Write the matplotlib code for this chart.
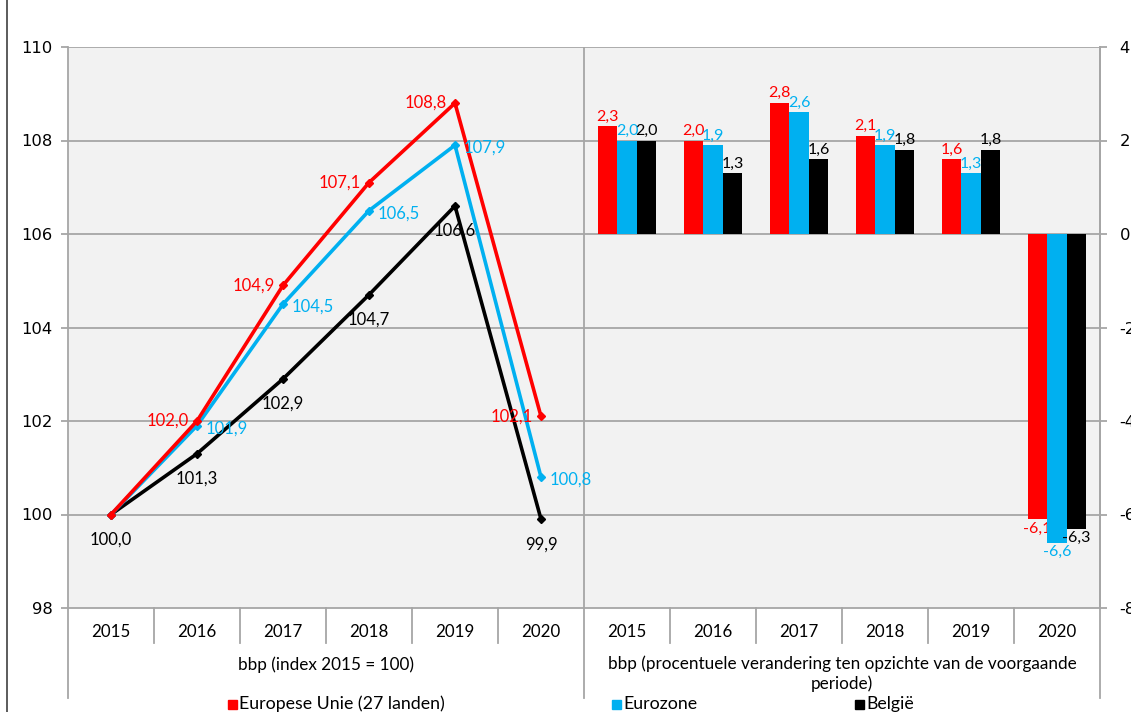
import numpy as np
import matplotlib
matplotlib.use('Agg')
import matplotlib.pyplot as plt
from matplotlib.patches import Rectangle
from matplotlib.lines import Line2D

years = ['2015', '2016', '2017', '2018', '2019', '2020']

# bbp index (2015 = 100)
eu_index = [100.0, 102.0, 104.9, 107.1, 108.8, 102.1]
ez_index = [100.0, 101.9, 104.5, 106.5, 107.9, 100.8]
be_index = [100.0, 101.3, 102.9, 104.7, 106.6, 99.9]

# bbp procentuele verandering
eu_growth = [2.3, 2.0, 2.8, 2.1, 1.6, -6.1]
ez_growth = [2.0, 1.9, 2.6, 1.9, 1.3, -6.6]
be_growth = [2.0, 1.3, 1.6, 1.8, 1.8, -6.3]

series_names = ['Europese Unie (27 landen)', 'Eurozone', 'België']
group_titles = ['bbp (index 2015 = 100)',
                'bbp (procentuele verandering ten opzichte van de voorgaande\nperiode)']

RED = '#FF0000'
BLUE = '#00B0F0'
BLACK = '#000000'
GRID = '#A6A6A6'
FONT = 'Lato'

W, H = 1131, 712
fig = plt.figure(figsize=(W / 100, H / 100), dpi=100)
fig.patch.set_facecolor('white')


def fx(px):
    return px / W


def fy(py):
    return 1 - py / H


left, right, top, bottom = 68, 1100, 47, 608
ax = fig.add_axes([fx(left), fy(bottom), fx(right - left), (bottom - top) / H])
ax.set_facecolor('#F2F2F2')
ax.set_xlim(0, 12)
ax.set_ylim(98, 110)
ax.set_yticks(np.arange(98, 111, 2))
ax.set_xticks([])
for yv in np.arange(100, 111, 2):
    ax.axhline(yv, color=GRID, lw=1.3, zorder=1)
ax.axvline(6, color=GRID, lw=1.3, zorder=1)
ax.spines['top'].set_visible(False)
for s in ['left', 'right', 'bottom']:
    ax.spines[s].set_color(GRID)
    ax.spines[s].set_linewidth(1.3)
ax.tick_params(axis='y', colors=GRID, length=5, width=1.3, labelcolor='black',
               labelsize=11.8, pad=6)
ax.set_yticklabels([str(v) for v in np.arange(98, 111, 2)], family='DejaVu Sans')

ax2 = ax.twinx()
ax2.set_ylim(-8, 4)
ax2.set_yticks(np.arange(-8, 5, 2))
ax2.set_yticklabels([str(v) for v in np.arange(-8, 5, 2)], family='DejaVu Sans')
for s in ['top', 'left', 'bottom']:
    ax2.spines[s].set_visible(False)
ax2.spines['right'].set_color(GRID)
ax2.spines['right'].set_linewidth(1.3)
ax2.tick_params(axis='y', colors=GRID, length=5, width=1.3, labelcolor='black',
                labelsize=11.8, pad=9)

# lines (left half)
xl = np.arange(6) + 0.5
for vals, col in [(eu_index, RED), (ez_index, BLUE), (be_index, BLACK)][::-1]:
    ax.plot(xl, vals, color=col, lw=2.6, marker='D', markersize=4.5, zorder=3)

lab = dict(fontsize=12, family=FONT, zorder=5)
for i, v in enumerate(eu_index):
    if i == 0:
        continue
    ax.annotate(f'{v:.1f}'.replace('.', ','), (xl[i], v), xytext=(-6, 0),
                textcoords='offset points', ha='right', va='center', color=RED, **lab)
for i, v in enumerate(ez_index):
    if i == 0:
        continue
    ax.annotate(f'{v:.1f}'.replace('.', ','), (xl[i], v), xytext=(6, -2),
                textcoords='offset points', ha='left', va='center', color=BLUE, **lab)
for i, v in enumerate(be_index):
    ax.annotate(f'{v:.1f}'.replace('.', ','), (xl[i], v), xytext=(0, -18),
                textcoords='offset points', ha='center', va='center', color=BLACK, **lab)

# bars (right half)
xb = np.arange(6) + 6.5
bw = 0.227
for k, (vals, col) in enumerate([(eu_growth, RED), (ez_growth, BLUE), (be_growth, BLACK)]):
    xs = xb + (k - 1) * bw
    ax2.bar(xs, vals, width=bw, color=col, zorder=3)
    for x, v in zip(xs, vals):
        txt = f'{v:.1f}'.replace('.', ',')
        if v >= 0:
            ax2.annotate(txt, (x, v), xytext=(0, 2), textcoords='offset points',
                         ha='center', va='bottom', color=col, fontsize=11.5, family=FONT)
        else:
            ax2.annotate(txt, (x, v), xytext=(0, -2), textcoords='offset points',
                         ha='center', va='top', color=col, fontsize=11.5, family=FONT)

# category axis
tr = ax.get_xaxis_transform()
span = bottom - top
cat_depth = -(643 - bottom) / span
grp_depth = -(698 - bottom) / span
for i in range(13):
    d = grp_depth if i in (0, 6, 12) else cat_depth
    ax.add_line(Line2D([i, i], [0, d], transform=tr, color=GRID, lw=1.3, clip_on=False))
for i in range(12):
    ax.text(i + 0.5, -(632 - bottom) / span, years[i % 6], transform=tr,
            ha='center', va='center', fontsize=12.2, family=FONT)
ax.text(3, -(665 - bottom) / span, group_titles[0], transform=tr,
        ha='center', va='center', fontsize=12.3, family=FONT)
ax.text(9, -(655 - bottom) / span, group_titles[1], transform=tr,
        ha='center', va='top', fontsize=12.3, family=FONT, linespacing=1.25)

# legend
leg_items = [(228, RED, series_names[0]), (612, BLUE, series_names[1]),
             (855, BLACK, series_names[2])]
for px, col, name in leg_items:
    fig.add_artist(Rectangle((fx(px), fy(709)), fx(9), 9 / H, color=col,
                             transform=fig.transFigure))
    fig.text(fx(px + 11), fy(704), name, ha='left', va='center', fontsize=12.8,
             family=FONT)

# outer border
fig.add_artist(Line2D([fx(7), fx(7)], [0, 1], color='#404040', lw=1.2,
                      transform=fig.transFigure))

fig.savefig('out.png', dpi=100)
